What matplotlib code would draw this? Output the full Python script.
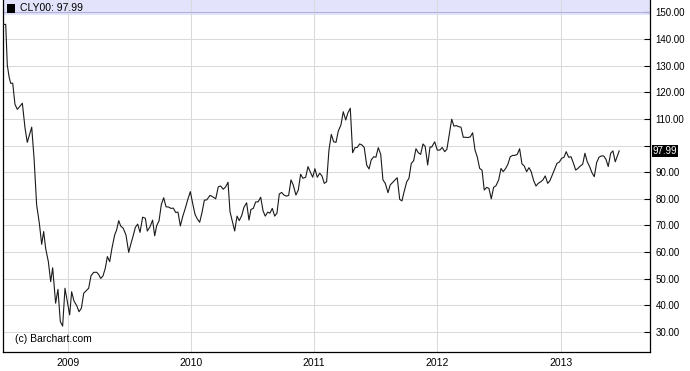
import matplotlib
matplotlib.use("Agg")
import matplotlib.pyplot as plt
import matplotlib.patches as patches
import matplotlib.transforms as mtransforms

plt.rcParams['font.family'] = ['Liberation Sans', 'DejaVu Sans']

# weekly closes, CLY00 (time as decimal years)
t = [
    2008.478, 2008.497, 2008.510, 2008.524, 2008.537, 2008.554, 2008.572, 2008.591, 2008.608, 2008.632,
    2008.654, 2008.672, 2008.694, 2008.708, 2008.727, 2008.748, 2008.770, 2008.789, 2008.805, 2008.821,
    2008.843, 2008.862, 2008.878, 2008.902, 2008.921, 2008.940, 2008.959, 2008.978, 2008.997, 2009.016,
    2009.032, 2009.051, 2009.073, 2009.092, 2009.111, 2009.130, 2009.148, 2009.170, 2009.189, 2009.211,
    2009.235, 2009.251, 2009.268, 2009.286, 2009.305, 2009.322, 2009.341, 2009.359, 2009.381, 2009.397,
    2009.414, 2009.430, 2009.451, 2009.473, 2009.495, 2009.514, 2009.533, 2009.549, 2009.568, 2009.587,
    2009.608, 2009.630, 2009.646, 2009.668, 2009.689, 2009.706, 2009.722, 2009.741, 2009.760, 2009.779,
    2009.798, 2009.819, 2009.838, 2009.857, 2009.876, 2009.895, 2009.914, 2009.933, 2009.954, 2009.973,
    2009.995, 2010.014, 2010.033, 2010.052, 2010.071, 2010.090, 2010.109, 2010.128, 2010.155, 2010.176,
    2010.201, 2010.222, 2010.241, 2010.262, 2010.282, 2010.301, 2010.317, 2010.335, 2010.355, 2010.374,
    2010.392, 2010.412, 2010.430, 2010.452, 2010.471, 2010.487, 2010.506, 2010.525, 2010.546, 2010.566,
    2010.585, 2010.603, 2010.623, 2010.641, 2010.660, 2010.680, 2010.698, 2010.717, 2010.736, 2010.755,
    2010.774, 2010.793, 2010.812, 2010.830, 2010.852, 2010.871, 2010.890, 2010.909, 2010.931, 2010.950,
    2010.968, 2010.988, 2011.006, 2011.025, 2011.045, 2011.063, 2011.082, 2011.101, 2011.120, 2011.139,
    2011.158, 2011.177, 2011.196, 2011.217, 2011.236, 2011.256, 2011.274, 2011.293, 2011.312, 2011.331,
    2011.350, 2011.369, 2011.388, 2011.406, 2011.426, 2011.445, 2011.463, 2011.483, 2011.501, 2011.520,
    2011.540, 2011.558, 2011.577, 2011.599, 2011.617, 2011.637, 2011.656, 2011.674, 2011.694, 2011.712,
    2011.731, 2011.751, 2011.769, 2011.788, 2011.807, 2011.826, 2011.845, 2011.864, 2011.883, 2011.901,
    2011.921, 2011.940, 2011.953, 2011.978, 2011.999, 2012.020, 2012.039, 2012.059, 2012.077, 2012.096,
    2012.116, 2012.134, 2012.153, 2012.172, 2012.191, 2012.210, 2012.229, 2012.248, 2012.267, 2012.286,
    2012.305, 2012.323, 2012.343, 2012.362, 2012.380, 2012.400, 2012.418, 2012.437, 2012.456, 2012.475,
    2012.497, 2012.516, 2012.534, 2012.554, 2012.572, 2012.591, 2012.611, 2012.629, 2012.648, 2012.667,
    2012.686, 2012.705, 2012.724, 2012.743, 2012.761, 2012.781, 2012.800, 2012.818, 2012.838, 2012.856,
    2012.875, 2012.895, 2012.913, 2012.932, 2012.951, 2012.970, 2012.989, 2013.008, 2013.027, 2013.045,
    2013.065, 2013.084, 2013.102, 2013.122, 2013.140, 2013.159, 2013.179, 2013.197, 2013.216, 2013.235,
    2013.254, 2013.273, 2013.292, 2013.311, 2013.329, 2013.349, 2013.368, 2013.386, 2013.406, 2013.424,
    2013.443, 2013.462, 2013.475,
]
close = [
    145.5, 145.5, 130.2, 125.9, 123.4, 123.4, 115.5, 113.6, 114.5, 115.9,
    106.5, 101.2, 104.6, 106.9, 95.2, 77.7, 70.8, 62.9, 67.7, 61.4,
    56.4, 48.9, 54.1, 40.8, 46.0, 33.9, 32.2, 46.4, 41.4, 36.4,
    45.1, 41.6, 39.9, 37.6, 38.9, 44.5, 45.4, 46.4, 51.1, 52.4,
    52.4, 51.6, 50.1, 51.0, 53.9, 58.3, 56.4, 61.4, 66.4, 68.3,
    71.8, 69.8, 68.9, 66.4, 59.9, 63.3, 66.4, 69.3, 70.5, 67.4,
    73.1, 72.7, 67.9, 69.5, 72.0, 66.1, 69.9, 71.7, 77.9, 80.4,
    77.0, 76.9, 76.4, 76.5, 74.9, 75.0, 69.8, 73.3, 76.4, 79.5,
    82.7, 78.3, 74.2, 72.4, 71.2, 74.9, 79.5, 79.6, 81.3, 80.8,
    80.0, 84.5, 84.8, 83.6, 84.5, 86.2, 75.2, 71.8, 67.9, 73.5,
    71.8, 73.7, 76.8, 78.5, 72.0, 76.0, 76.4, 78.8, 78.9, 80.6,
    75.5, 73.5, 75.0, 74.6, 76.4, 73.5, 74.6, 81.8, 82.4, 81.4,
    81.0, 81.3, 87.1, 85.2, 81.4, 83.3, 89.2, 87.7, 88.1, 92.1,
    90.1, 88.1, 91.3, 88.1, 89.6, 88.6, 85.8, 86.4, 98.3, 104.2,
    101.4, 101.2, 105.5, 107.7, 112.7, 109.6, 112.3, 114.0, 97.3, 99.2,
    99.3, 100.6, 100.2, 99.3, 92.7, 91.2, 94.6, 95.8, 95.6, 99.2,
    96.7, 87.1, 85.8, 82.3, 85.2, 86.2, 87.1, 87.9, 79.8, 79.2,
    82.9, 86.4, 87.7, 93.3, 94.3, 98.8, 97.3, 96.7, 100.6, 99.6,
    92.7, 99.5, 99.4, 101.4, 98.3, 98.3, 99.3, 97.7, 98.6, 104.0,
    109.9, 107.3, 107.5, 107.1, 106.9, 103.1, 103.1, 103.0, 103.3, 104.8,
    98.3, 95.8, 91.4, 90.8, 83.3, 84.3, 83.9, 80.0, 84.3, 84.9,
    87.1, 91.4, 90.2, 91.4, 93.0, 95.8, 96.3, 96.3, 96.7, 98.8,
    93.1, 92.3, 90.2, 91.7, 90.2, 86.8, 84.8, 85.8, 86.4, 87.1,
    88.6, 85.8, 86.8, 88.9, 91.1, 93.3, 93.8, 95.2, 95.6, 97.7,
    95.6, 95.8, 93.6, 90.8, 91.4, 92.3, 93.0, 97.1, 93.9, 92.1,
    89.8, 88.3, 93.6, 95.6, 96.1, 96.1, 94.8, 92.1, 97.1, 98.0,
    93.9, 96.4, 97.99,
]

symbol = "CLY00"
year_ticks = [2009, 2010, 2011, 2012, 2013]
price_ticks = [30, 40, 50, 60, 70, 80, 90, 100, 110, 120, 130, 140, 150]

fig = plt.figure(figsize=(6.9, 3.71), dpi=100)
ax = fig.add_axes([2.5 / 690, 1 - 352 / 371, 647.5 / 690, 352 / 371])

ax.set_xlim(2008.471, 2013.725)
ax.set_ylim(22.47, 154.66)

# header band
ax.axhspan(149.15, 154.66, color='#e3e3fb', zorder=0.5, lw=0)

ax.plot(t, close, color='#1a1a1a', lw=0.8, zorder=3)

# grid
ax.set_xticks(year_ticks)
ax.set_xticklabels([str(y) for y in year_ticks])
ax.set_yticks(price_ticks)
ax.set_yticklabels(['' if p == 100 else f"{p:.2f}" for p in price_ticks])
ax.grid(True, color='#dadada', lw=0.75, zorder=0)
ax.set_axisbelow(True)
ax.axhline(150, color='#b0b0dc', lw=0.75, zorder=1)

ax.yaxis.tick_right()
ax.tick_params(axis='y', direction='in', length=4, width=0.8, pad=4, labelsize=7, color='black')
ax.tick_params(axis='x', length=0, pad=4, labelsize=7.5)

for s in ['left', 'right', 'bottom']:
    ax.spines[s].set_color('black')
    ax.spines[s].set_linewidth(0.9)
ax.spines['top'].set_visible(False)

# last price tag
trans = mtransforms.blended_transform_factory(ax.transAxes, ax.transData)
ax.annotate(f"{close[-1]:.2f}", xy=(1, close[-1]), xycoords=trans,
            xytext=(2, 0), textcoords='offset points', ha='left', va='center',
            fontsize=7, color='white', annotation_clip=False,
            bbox=dict(boxstyle='square,pad=0.12', fc='black', ec='none'))

# header
fig.patches.append(patches.Rectangle((6.5 / 690, 1 - 12.7 / 371), 8.5 / 690, 8.5 / 371,
                                     transform=fig.transFigure, fc='black', ec='none'))
fig.text(20 / 690, 1 - 8.3 / 371, f"{symbol}: {close[-1]:.2f}", fontsize=7.5,
         ha='left', va='center', color='black')
ax.text(15 / 690, 1 - 339 / 371, "(c) Barchart.com", transform=fig.transFigure,
        fontsize=7.5, ha='left', va='center', color='black')

fig.savefig("out.png", dpi=100)
plt.close(fig)
